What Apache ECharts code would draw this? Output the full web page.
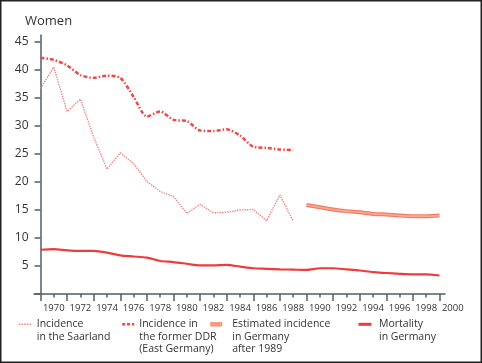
<!DOCTYPE html>
<html><head><meta charset="utf-8">
<script src="https://cdn.jsdelivr.net/npm/echarts@6/dist/echarts.min.js"></script>
<style>html,body{margin:0;padding:0;background:#fff}#c{width:482px;height:363px}</style>
</head><body><div id="c"></div>
<script>
// ---- data ----
const years = ['1969','1970','1971','1972','1973','1974','1975','1976','1977','1978','1979','1980','1981','1982','1983','1984','1985','1986','1987','1988','1989','1990','1991','1992','1993','1994','1995','1996','1997','1998','1999'];
const labelYears = years.concat(['2000']);
const yTicks = [0, 45, 5];
const saarland = [36.7, 40.5, 32.6, 34.8, 28.0, 22.3, 25.2, 23.3, 20.1, 18.3, 17.4, 14.4, 16.0, 14.5, 14.6, 15.0, 15.1, 13.1, 17.7, 13.0];
const ddr = [42.2, 41.8, 40.8, 39.1, 38.6, 39.0, 38.6, 35.2, 31.7, 32.6, 31.1, 30.9, 29.2, 29.1, 29.4, 28.3, 26.3, 26.1, 25.8, 25.7];
const estYears = ['1989','1990','1991','1992','1993','1994','1995','1996','1997','1998','1999'];
const estimated = [15.9, 15.5, 15.1, 14.8, 14.6, 14.3, 14.2, 14.0, 13.9, 13.9, 14.0];
const mortality = [7.9, 8.0, 7.8, 7.7, 7.7, 7.4, 6.9, 6.7, 6.5, 5.9, 5.7, 5.4, 5.1, 5.1, 5.2, 4.9, 4.6, 4.5, 4.4, 4.35, 4.3, 4.6, 4.6, 4.4, 4.2, 3.9, 3.75, 3.6, 3.5, 3.5, 3.3];
const legendLabels = {
  'Saarland': '\nIncidence\nin the Saarland',
  'DDR': '\n\nIncidence in\nthe former DDR\n(East Germany)',
  'Estimated': '\n\nEstimated incidence\nin Germany\nafter 1989',
  'Mortality': '\nMortality\nin Germany'
};

const FONT = '"Open Sans", "Noto Sans", sans-serif';
const AX = '#4e6066';
const C_SAAR = '#f08585', C_DDR = '#ee4a4a', C_EST = '#f27c6c', C_EST_IN = '#f8ad8c', C_MORT = '#ee3c3c';
const LH = 12.3, ROW1 = 324.3;

function legend(name, left, itemWidth, padLeft, ls) {
  const nLines = legendLabels[name].split('\n').length;
  return {
    data: [name], left: left, top: ROW1 - nLines * LH / 2, padding: 0, itemWidth: itemWidth, itemHeight: 10,
    selectedMode: false,
    textStyle: {fontFamily: FONT, fontSize: 10.5, color: '#333', lineHeight: LH, padding: [0, 0, 0, padLeft]},
    formatter: n => legendLabels[n],
    lineStyle: ls,
    itemStyle: {opacity: 0}
  };
}

const chart = echarts.init(document.getElementById('c'), null, {renderer: 'canvas'});
chart.setOption({
  animation: false,
  backgroundColor: '#fff',
  title: {text: 'Women', left: 25, top: 15, padding: 0,
    textStyle: {fontFamily: FONT, fontSize: 13, fontWeight: 'normal', color: '#333'}},
  grid: [
    {left: 40.5, width: 399, top: 42, height: 252},
    {left: 40.5, width: 399 * 31 / 30, top: 35, height: 259},
    {left: 34, width: 411, top: 35, height: 259}
  ],
  xAxis: [
    {gridIndex: 0, type: 'category', data: years, boundaryGap: false,
      axisLine: {show: false},
      axisTick: {show: true, length: 7, interval: (i) => i % 2 === 0, lineStyle: {color: AX, width: 1.5}},
      axisLabel: {show: false}, splitLine: {show: false}},
    {gridIndex: 0, type: 'category', data: years, boundaryGap: false, position: 'bottom',
      axisLine: {show: false},
      axisTick: {show: true, length: 3.5, interval: (i) => i % 2 === 1, lineStyle: {color: AX, width: 1.5}},
      axisLabel: {show: false}, splitLine: {show: false}},
    {gridIndex: 1, type: 'category', data: labelYears, boundaryGap: false,
      axisLine: {show: false}, axisTick: {show: false}, splitLine: {show: false},
      axisLabel: {show: true, interval: (i) => i % 2 === 1, margin: 9.5,
        fontFamily: FONT, fontSize: 9.5, color: '#333'}},
    {gridIndex: 2, type: 'value', min: 0, max: 1,
      axisLine: {show: true, lineStyle: {color: AX, width: 1.5}},
      axisTick: {show: false}, axisLabel: {show: false}, splitLine: {show: false}}
  ],
  yAxis: [
    {gridIndex: 0, type: 'value', min: yTicks[0], max: yTicks[1], interval: yTicks[2],
      axisLine: {show: false},
      axisTick: {show: true, length: 6, lineStyle: {color: AX, width: 1.5}},
      axisLabel: {show: true, margin: 12, fontFamily: FONT, fontSize: 12, color: '#333',
        formatter: v => v === 0 ? '' : String(v)},
      splitLine: {show: false}},
    {gridIndex: 1, type: 'value', min: 0, max: 1,
      axisLine: {show: true, lineStyle: {color: AX, width: 1.5}},
      axisTick: {show: false}, axisLabel: {show: false}, splitLine: {show: false}},
    {gridIndex: 2, type: 'value', min: 0, max: 1, show: false}
  ],
  legend: [
    legend('Saarland', 18, 13, 0, {color: C_SAAR, width: 1.5, type: [1.5, 1.2]}),
    legend('DDR', 121, 12, 0, {color: C_DDR, width: 2.5, type: [3, 1.8]}),
    legend('Estimated', 208, 12, 5, {color: '#f59a80', width: 4.5, type: 'solid'}),
    legend('Mortality', 357, 13, 2.5, {color: C_MORT, width: 3, type: 'solid'})
  ],
  graphic: [{type: 'rect', shape: {x: 0.75, y: 0.75, width: 480.5, height: 361.5},
    style: {fill: 'none', stroke: '#222', lineWidth: 1.5}, silent: true}],
  series: [
    {name: 'Saarland', type: 'line', xAxisIndex: 0, yAxisIndex: 0, data: saarland, symbol: 'none',
      lineStyle: {color: C_SAAR, width: 1.4, type: [1.4, 1.1]}, itemStyle: {color: C_SAAR}, z: 3},
    {name: 'DDR', type: 'line', xAxisIndex: 0, yAxisIndex: 0, data: ddr, symbol: 'none', smooth: 0.25,
      lineStyle: {color: C_DDR, width: 2.5, type: [4, 2, 1.5, 2]}, itemStyle: {color: C_DDR}, z: 3},
    {name: 'Estimated', type: 'line', xAxisIndex: 0, yAxisIndex: 0,
      data: estYears.map((y, i) => [y, estimated[i]]), symbol: 'none', smooth: 0.3,
      lineStyle: {color: C_EST, width: 4}, itemStyle: {color: C_EST}, z: 3},
    {name: 'EstimatedInner', type: 'line', xAxisIndex: 0, yAxisIndex: 0,
      data: estYears.map((y, i) => [y, estimated[i]]), symbol: 'none', smooth: 0.3,
      lineStyle: {color: C_EST_IN, width: 1.6}, itemStyle: {color: C_EST_IN}, z: 4},
    {name: 'Mortality', type: 'line', xAxisIndex: 0, yAxisIndex: 0, data: mortality, symbol: 'none', smooth: 0.25,
      lineStyle: {color: C_MORT, width: 2.2}, itemStyle: {color: C_MORT}, z: 3}
  ]
});
</script></body></html>
